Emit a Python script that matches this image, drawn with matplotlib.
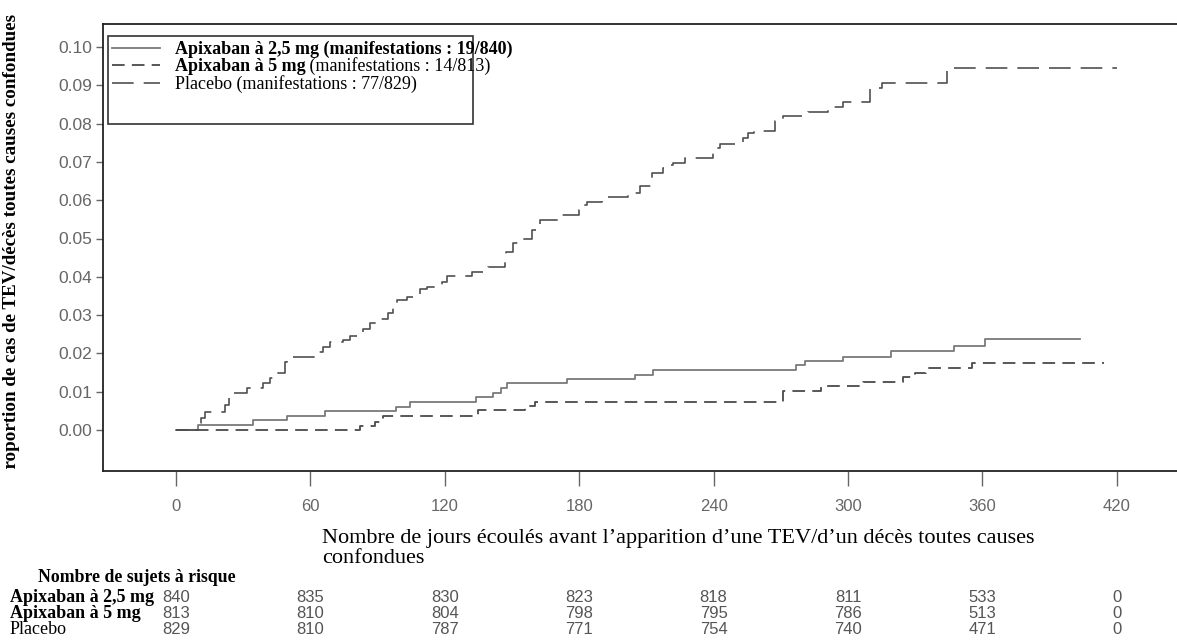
import numpy as np
import matplotlib
matplotlib.use('Agg')
import matplotlib.pyplot as plt
from matplotlib.patches import Rectangle
from matplotlib.transforms import Bbox, TransformedBbox, blended_transform_factory

# ---------------------------------------------------------------------------
# data (day of step, cumulative proportion after step)
# ---------------------------------------------------------------------------

days_apx25 = [0, 10, 34.5, 49.7, 66.5, 98.2, 104.5, 134, 141.7, 145, 147.6, 174.7,
              204.9, 213, 277, 280.8, 297.9, 319, 347.5, 361, 403.6]
prop_apx25 = [0, 0.0013, 0.0026, 0.0037, 0.0050, 0.0061, 0.0074, 0.0085, 0.0097, 0.0109,
              0.0124, 0.0132, 0.0144, 0.0157, 0.0171, 0.0180, 0.0191, 0.0207, 0.0219,
              0.0237, 0.0237]

days_apx5 = [0, 82, 88.8, 92.6, 135, 155.8, 160.3, 270.8, 288, 306.8, 324.7, 330,
             334.8, 355.2, 414.3]
prop_apx5 = [0, 0.0010, 0.0022, 0.0037, 0.0052, 0.0063, 0.0074, 0.0103, 0.0115, 0.0126,
             0.0138, 0.0150, 0.0163, 0.0175, 0.0175]

days_pbo = [0, 10, 11, 13, 22, 23.5, 25.6, 31.8, 39, 42, 45, 48.7, 49.4, 63.5, 65.8,
            68.8, 74.7, 77.7, 83.6, 86.6, 91.1, 94.8, 96.7, 98.5, 103.3, 108.9, 111.9,
            118.6, 120.8, 132, 139.4, 146.9, 147.5, 150.6, 155, 158.8, 161, 162.5,
            170.7, 180, 181.8, 183.3, 190, 201.9, 204.2, 207.1, 212.4, 217.5, 220.5,
            222, 227.2, 239.9, 242.9, 253.3, 255.5, 258, 267.4, 271.1, 282.3, 291.2,
            297.9, 310, 315, 344, 420]
prop_pbo = [0, 0.0017, 0.0032, 0.0048, 0.0065, 0.0087, 0.0097, 0.0109, 0.0122, 0.0135,
            0.0150, 0.0178, 0.0191, 0.0204, 0.0217, 0.0230, 0.0235, 0.0245, 0.0265,
            0.0280, 0.0290, 0.0305, 0.0322, 0.0339, 0.0348, 0.0367, 0.0374, 0.0387,
            0.0402, 0.0413, 0.0426, 0.0451, 0.0466, 0.0487, 0.0500, 0.0522, 0.0535,
            0.0548, 0.0561, 0.0574, 0.0587, 0.0596, 0.0609, 0.0614, 0.0620, 0.0637,
            0.0672, 0.0683, 0.0692, 0.0696, 0.0709, 0.0735, 0.0746, 0.0762, 0.0775,
            0.0781, 0.0808, 0.0820, 0.0831, 0.0844, 0.0857, 0.0892, 0.0905, 0.0946,
            0.0946]

# number at risk table
risk_days = [0, 60, 120, 180, 240, 300, 360, 420]
risk_apx25 = [840, 835, 830, 823, 818, 811, 533, 0]
risk_apx5 = [813, 810, 804, 798, 795, 786, 513, 0]
risk_pbo = [829, 810, 787, 771, 754, 740, 471, 0]
risk_labels = ['Apixaban à 2,5 mg', 'Apixaban à 5 mg', 'Placebo']

x_ticks = [0, 60, 120, 180, 240, 300, 360, 420]
y_ticks = [0.00, 0.01, 0.02, 0.03, 0.04, 0.05, 0.06, 0.07, 0.08, 0.09, 0.10]

# ---------------------------------------------------------------------------
# figure
# ---------------------------------------------------------------------------

W, H = 1177, 641
serif = ['Liberation Serif', 'DejaVu Serif']
narrow = ['Liberation Sans', 'DejaVu Sans']

fig = plt.figure(figsize=(W/100, H/100), dpi=100)
# axes box in pixels: left 103, right 1177, top 24, bottom 471
ax = fig.add_axes([103/W, 1-471/H, (W-103)/W, (471-24)/H])

h25, = ax.step(days_apx25, prop_apx25, where='post', color='#7a7a7a', lw=1.3)
h5, = ax.step(days_apx5, prop_apx5, where='post', color='#4a4a4a', lw=1.3,
              dashes=(7, 4))
hpb, = ax.step(days_pbo, prop_pbo, where='post', color='#505050', lw=1.2,
               dashes=(13, 6))

ax.set_xlim((103-176)/2.24, (W-176)/2.24)
ax.set_ylim(-(471-430)/3830, 0.10 + (47-24)/3830)

ax.set_xticks(x_ticks)
ax.set_yticks(y_ticks)
ax.set_yticklabels([f'{v:.2f}' for v in y_ticks])
ax.tick_params(axis='y', direction='out', length=5, width=1, colors='#666666',
               labelsize=12.5, pad=3, labelfontfamily=narrow)
ax.tick_params(axis='x', direction='out', length=11, width=1, colors='#666666',
               labelsize=12, pad=9, labelfontfamily=narrow)

ax.spines['right'].set_visible(False)
for s in ['top', 'bottom', 'left']:
    ax.spines[s].set_linewidth(1.3)
    ax.spines[s].set_color('#222222')

# legend (frame drawn separately, the text runs over it as in the reference)
leg = ax.legend([h25, h5, hpb],
                ['Apixaban à 2,5 mg (manifestations : 19/840)', 'Apixaban à 5 mg',
                 'Placebo (manifestations : 77/829)'],
                loc='upper left', bbox_to_anchor=(0.008, 0.962), frameon=False,
                prop={'family': serif, 'size': 13}, handlelength=2.7,
                handletextpad=0.8, labelspacing=0.0, borderaxespad=0, borderpad=0)
texts = leg.get_texts()
texts[0].set_fontweight('bold')
texts[1].set_fontweight('bold')
ax.annotate(' (manifestations : 14/813)', xy=(1, 0), xycoords=texts[1],
            ha='left', va='bottom', fontsize=13, family=serif, zorder=10)
ax.add_patch(Rectangle(((108-103)/1074, (471-124)/447), (473-108)/1074, (124-36)/447,
                       transform=ax.transAxes, fill=False, ec='#333333', lw=1.2,
                       clip_on=False))

# axis titles
ylab = fig.text(12/W, 1-247/H, 'Proportion de cas de TEV/décès toutes causes confondues',
                rotation=90, ha='center', va='center', fontsize=13.7,
                fontweight='bold', family=serif)
ylab.set_clip_box(TransformedBbox(Bbox([[0, 1-470/H], [1, 1]]), fig.transFigure))

fig.text(322/W, 1-529/H,
         'Nombre de jours écoulés avant l\u2019apparition d\u2019une TEV/d\u2019un décès toutes causes\nconfondues',
         ha='left', va='top', fontsize=16, family=serif, linespacing=1.05)

# number at risk table
fig.text(38/W, 1-578/H, 'Nombre de sujets à risque', ha='left', va='center',
         fontsize=12.8, fontweight='bold', family=serif)
tr = blended_transform_factory(ax.transData, fig.transFigure)
rows = [risk_apx25, risk_apx5, risk_pbo]
row_y = [597, 613, 629]
weights = ['bold', 'bold', 'normal']
for lab, vals, yy, wt in zip(risk_labels, rows, row_y, weights):
    fig.text(10/W, 1-(yy+1)/H, lab, ha='left', va='center', fontsize=13,
             fontweight=wt, family=serif)
    for d, n in zip(risk_days, vals):
        ax.text(d, 1-yy/H, str(n), transform=tr, ha='center', va='center',
                fontsize=12, color='#555555', family=narrow)

fig.savefig('out.png', dpi=100)
